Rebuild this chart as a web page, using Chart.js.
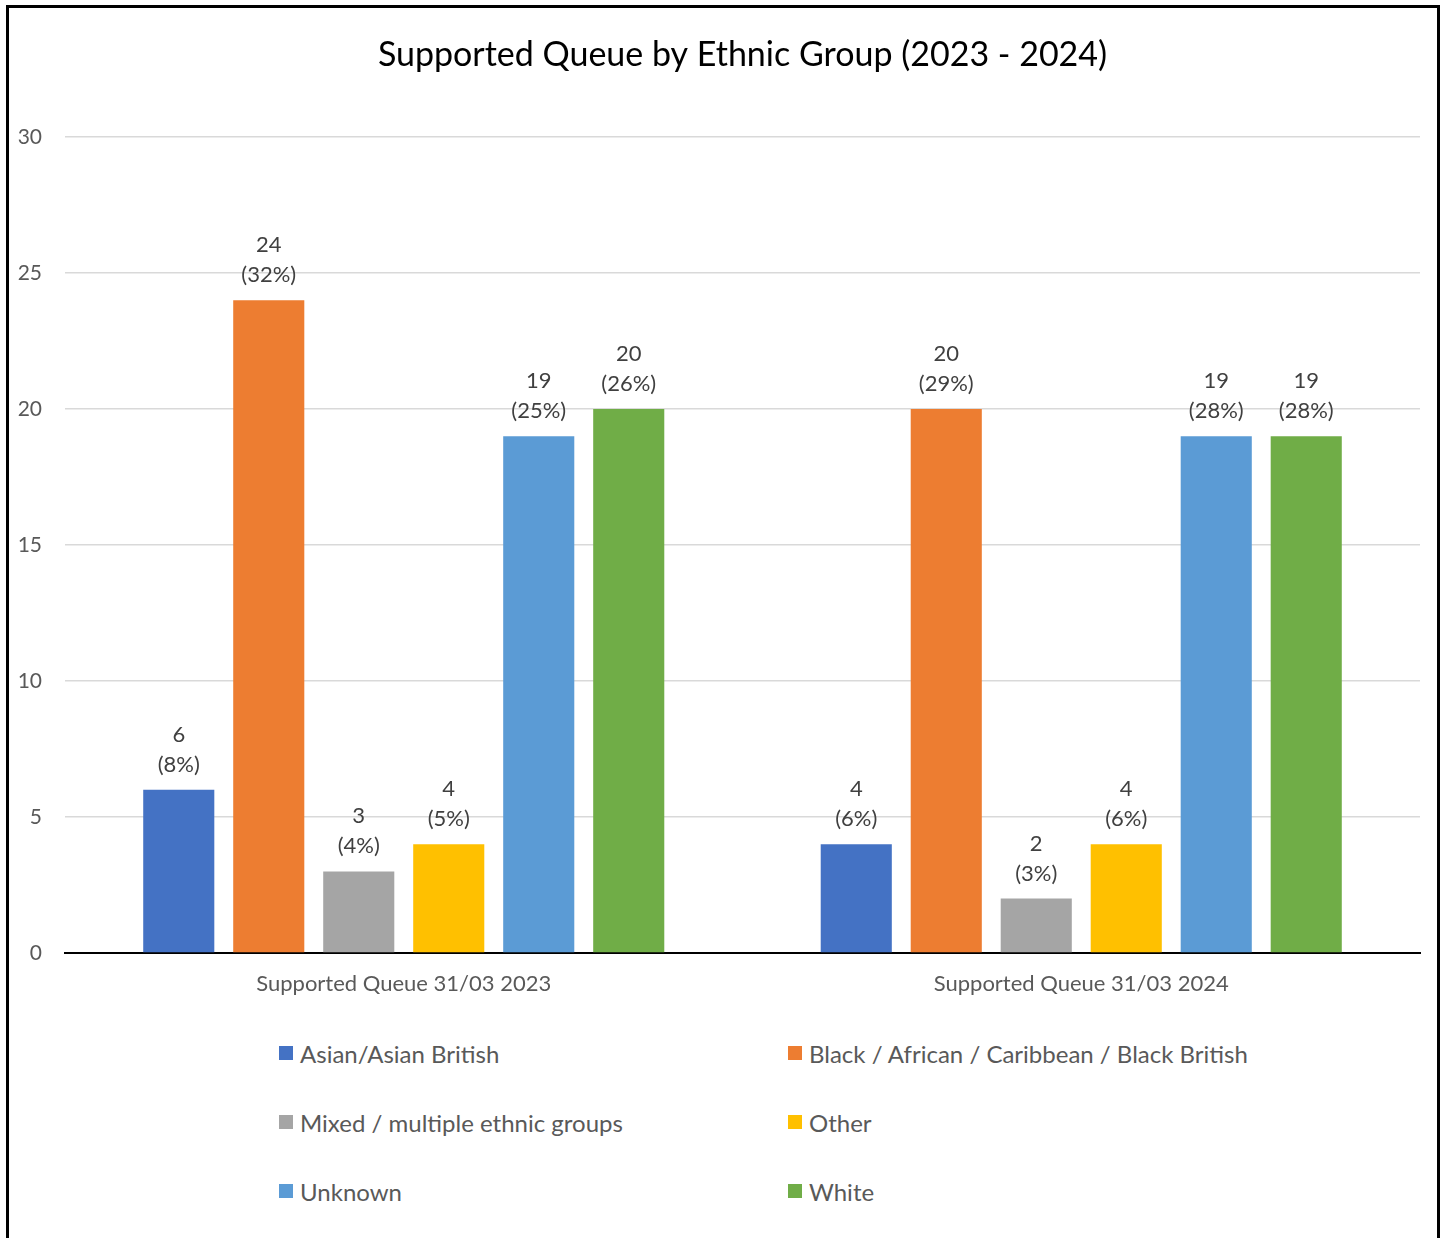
<!DOCTYPE html>
<html>
<head>
<meta charset="utf-8">
<title>Supported Queue by Ethnic Group</title>
<script src="https://cdn.jsdelivr.net/npm/chart.js@4.4.1/dist/chart.umd.min.js"></script>
<style>
  body { margin: 0; background: #fff; font-family: Lato, "Open Sans", sans-serif; }
  #frame { position: absolute; left: 6px; top: 5px; width: 1434px; height: 1260px; border: 3px solid #000; box-sizing: border-box; }
  #chartWrap { position: absolute; left: 0; top: 0; width: 1445px; height: 1010px; }
  .legend-item { position: absolute; display: flex; align-items: center; font-size: 24px; color: #595959; white-space: nowrap; }
  .legend-item span.box { display: inline-block; width: 14px; height: 14px; margin-right: 7px; }
</style>
</head>
<body>
<div id="frame"></div>
<div id="chartWrap"><canvas id="queueChart"></canvas></div>
<div id="legend"></div>
<script>
const categories = ["Supported Queue 31/03 2023", "Supported Queue 31/03 2024"];
const groups = [
  "Asian/Asian British",
  "Black / African / Caribbean / Black British",
  "Mixed / multiple ethnic groups",
  "Other",
  "Unknown",
  "White"
];
const asianValues = [6, 4];
const blackValues = [24, 20];
const mixedValues = [3, 2];
const otherValues = [4, 4];
const unknownValues = [19, 19];
const whiteValues = [20, 19];
const yTicks = [0, 5, 10, 15, 20, 25, 30];

const colors = ["#4472C4", "#ED7D31", "#A5A5A5", "#FFC000", "#5B9BD5", "#70AD47"];
const series = [asianValues, blackValues, mixedValues, otherValues, unknownValues, whiteValues];

const totals = categories.map((_, i) => series.reduce((s, arr) => s + arr[i], 0));

const titlePlugin = {
  id: "titleText",
  afterDraw(chart) {
    const ctx = chart.ctx;
    const area = chart.chartArea;
    ctx.save();
    ctx.font = "34px Lato, sans-serif";
    ctx.fillStyle = "#000";
    ctx.textAlign = "center";
    ctx.textBaseline = "middle";
    ctx.fillText("Supported Queue by Ethnic Group (2023 - 2024)", (area.left + area.right) / 2, 55);
    ctx.restore();
  }
};

const labelPlugin = {
  id: "barLabels",
  afterDatasetsDraw(chart) {
    const ctx = chart.ctx;
    ctx.save();
    ctx.font = "22px Lato, sans-serif";
    ctx.fillStyle = "#404040";
    ctx.textAlign = "center";
    ctx.textBaseline = "middle";
    chart.data.datasets.forEach((ds, di) => {
      chart.getDatasetMeta(di).data.forEach((bar, i) => {
        const v = ds.data[i];
        const pct = Math.round((v / totals[i]) * 100);
        ctx.fillText(String(v), bar.x, bar.y - 55);
        ctx.fillText("(" + pct + "%)", bar.x, bar.y - 25);
      });
    });
    ctx.restore();
  }
};

new Chart(document.getElementById("queueChart"), {
  type: "bar",
  data: {
    labels: categories,
    datasets: groups.map((g, i) => ({
      label: g,
      data: series[i],
      backgroundColor: colors[i],
      barPercentage: 0.79,
      categoryPercentage: 0.797
    }))
  },
  options: {
    responsive: true,
    maintainAspectRatio: false,
    animation: false,
    layout: { padding: { top: 137, right: 25, left: 0, bottom: 0 } },
    plugins: {
      legend: { display: false },
      tooltip: { enabled: false }
    },
    scales: {
      x: {
        grid: { display: false },
        border: { color: "#000", width: 2 },
        ticks: { color: "#595959", font: { size: 22, family: "Lato, sans-serif" }, padding: 10 },
        afterFit(scale) { scale.height = 57; }
      },
      y: {
        min: 0,
        max: 30,
        afterBuildTicks(scale) { scale.ticks = yTicks.map((v) => ({ value: v })); },
        grid: { color: "#d9d9d9", lineWidth: 1.5, drawTicks: false },
        border: { display: false },
        ticks: { color: "#595959", font: { size: 21, family: "Lato, sans-serif" }, padding: 23 },
        afterFit(scale) { scale.width = 65; }
      }
    }
  },
  plugins: [titlePlugin, labelPlugin]
});

// legend laid out in two columns like the original
const legend = document.getElementById("legend");
const legendCols = [279, 788];
const legendRows = [1055, 1124, 1193];
groups.forEach((g, i) => {
  const item = document.createElement("div");
  item.className = "legend-item";
  item.style.left = legendCols[i % 2] + "px";
  item.style.top = (legendRows[Math.floor(i / 2)] - 17) + "px";
  item.style.height = "30px";
  item.innerHTML = `<span class="box" style="background:${colors[i]}"></span>${g}`;
  legend.appendChild(item);
});
</script>
</body>
</html>
